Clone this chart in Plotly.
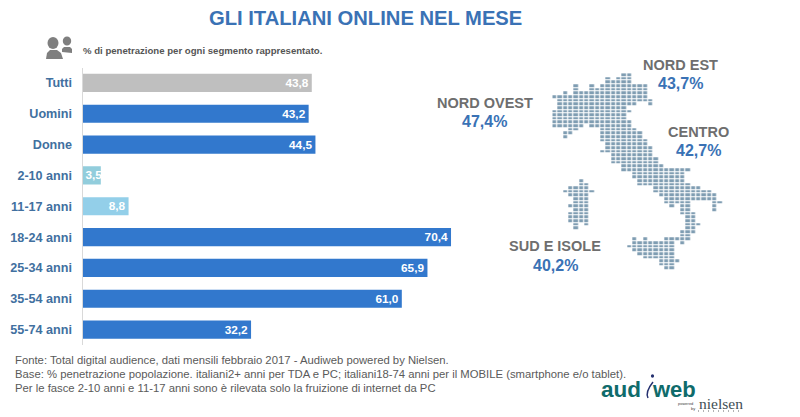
import plotly.graph_objects as go

W, H = 800, 417

categories = ["Tutti", "Uomini", "Donne", "2-10 anni", "11-17 anni", "18-24 anni", "25-34 anni", "35-54 anni", "55-74 anni"]
penetration = [43.8, 43.2, 44.5, 3.5, 8.8, 70.4, 65.9, 61.0, 32.2]
bar_colors = ["#bfbfbf", "#3278cd", "#3278cd", "#92cddc", "#93cfe9", "#3278cd", "#3278cd", "#3278cd", "#3278cd"]

areas = ["NORD OVEST", "NORD EST", "CENTRO", "SUD E ISOLE"]
area_values = ["47,4%", "43,7%", "42,7%", "40,2%"]

notes = [
    "Fonte: Total digital audience, dati mensili febbraio 2017 - Audiweb powered by Nielsen.",
    "Base: % penetrazione popolazione. italiani2+ anni per TDA e PC; italiani18-74 anni per il MOBILE (smartphone e/o tablet).",
    "Per le fasce 2-10 anni e 11-17 anni sono è rilevata solo la fruizione di internet da PC",
]

# column spans of the dotted map, one list per row
map_rows = [
    [(13, 14)], [(10, 10), (12, 14)], [(10, 14)], [(4, 4), (7, 7), (9, 17)],
    [(4, 4), (7, 7), (8, 17)], [(2, 2), (4, 17)], [(0, 17)], [(1, 18)],
    [(1, 15), (18, 18)], [(1, 13)], [(0, 14)], [(0, 13)], [(0, 13)], [(0, 14)],
    [(0, 5), (7, 14)], [(3, 4), (9, 15)], [(2, 3), (9, 16)], [(2, 2), (9, 16)],
    [(9, 17)], [(10, 17)], [(10, 18)], [(9, 18)], [(11, 18)], [(11, 19)], [(11, 19)],
    [(13, 20)], [(13, 25)], [(15, 24)], [(15, 24)], [(5, 5), (16, 24)], [(5, 6), (16, 25)],
    [(3, 6), (19, 27)], [(2, 7), (19, 29)], [(3, 6), (20, 30)], [(4, 6), (21, 30)],
    [(4, 6), (21, 25), (30, 31)], [(3, 6), (22, 22), (24, 25), (30, 30)],
    [(4, 6), (24, 25), (30, 30)], [(3, 6), (24, 26)], [(3, 6), (25, 26)], [(3, 6), (25, 26)],
    [(4, 4), (6, 6), (25, 27)], [(4, 4), (25, 26)], [(24, 26)], [(24, 25)],
    [(15, 15), (17, 17), (21, 25)], [(15, 22), (24, 24)], [(14, 22)], [(15, 22)],
    [(16, 22)], [(17, 22)], [(20, 23)], [(20, 22)], [(21, 22)],
]

FONT = "Liberation Sans, Arial, sans-serif"
BLUE = "#3a72b5"
GREY = "#6e6e6e"


def px(x):
    return x / W


def py(y):
    return 1 - y / H


def label(x, y, text, size, color, bold=True, anchor="center", family=FONT):
    if bold:
        text = f"<b>{text}</b>"
    fig.add_annotation(x=px(x), y=py(y), xref="paper", yref="paper", text=text, showarrow=False,
                       xanchor=anchor, yanchor="middle", align=anchor,
                       font=dict(family=family, size=size, color=color))


fig = go.Figure()

# the 2-10 bar is too short for its label, so that one is anchored at the start
for narrow in (False, True):
    idx = [i for i, c in enumerate(categories) if (c == "2-10 anni") == narrow]
    fig.add_trace(go.Bar(
        y=[categories[i] for i in idx], x=[penetration[i] for i in idx], orientation="h",
        marker=dict(color=[bar_colors[i] for i in idx], line_width=0),
        texttemplate="<b>%{x:.1f}</b>", textposition="inside",
        insidetextanchor="start" if narrow else "end",
        textangle=0, constraintext="none", cliponaxis=False,
        textfont=dict(family=FONT, size=11.8, color="white"),
        hoverinfo="skip", showlegend=False,
    ))

# map as a grid of cells
map_z = []
for spans in map_rows:
    row = [None] * 32
    for a, b in spans:
        for c in range(a, b + 1):
            row[c] = 1
    map_z.append(row)

fig.add_trace(go.Heatmap(
    z=map_z, xaxis="x2", yaxis="y2", xgap=1.2, ygap=1,
    colorscale=[[0, "#7f9db2"], [1, "#7f9db2"]], showscale=False, hoverinfo="skip",
))

fig.update_layout(
    width=W, height=H, margin=dict(l=0, r=0, t=0, b=0),
    paper_bgcolor="white", plot_bgcolor="rgba(0,0,0,0)",
    separators=",.", barmode="overlay", bargap=0.41,
    xaxis=dict(domain=[px(82.5), px(82.5 + 392.6)], range=[0, 75], visible=False),
    yaxis=dict(domain=[py(345), py(67.5)], categoryorder="array", categoryarray=categories,
               autorange="reversed", showline=True, linecolor="#d9d9d9", linewidth=1,
               showgrid=False, ticks="", ticklabelstandoff=7,
               tickfont=dict(family=FONT, size=12.6, color="#41709f", weight="bold")),
    xaxis2=dict(domain=[px(552.3), px(552.3 + 32 * 5.33)], range=[-0.5, 31.5], visible=False, anchor="y2"),
    yaxis2=dict(domain=[py(73.2 + 54 * 3.65), py(73.2)], range=[53.5, -0.5], visible=False, anchor="x2"),
)

label(365, 18, "GLI ITALIANI ONLINE NEL MESE", 20.2, BLUE)
label(81, 50, "% di penetrazione per ogni segmento rappresentato.", 9.6, "#555555", anchor="left")

# region labels
area_x = [485, 680, 698, 555]
area_y = [103, 65, 132, 246]
value_y = [122, 84, 150, 265]
for name, val, x, y0, y1 in zip(areas, area_values, area_x, area_y, value_y):
    label(x, y0, name, 14.5, GREY)
    label(x, y1, val, 16, BLUE)

for y, note in zip([360, 374, 388], notes):
    label(13, y, note, 11.3, "#5a5a5a", bold=False, anchor="left")


# people icon
def disc(cx, cy, r, color="#7f7f7f"):
    fig.add_shape(type="circle", xref="paper", yref="paper", x0=px(cx - r), x1=px(cx + r),
                  y0=py(cy + r * 1.1), y1=py(cy - r * 1.1), fillcolor=color, line_width=0)


def blob(points, color="#7f7f7f"):
    path = "M " + " L ".join(f"{px(x):.5f},{py(y):.5f}" for x, y in points) + " Z"
    fig.add_shape(type="path", xref="paper", yref="paper", path=path, fillcolor=color, line_width=0)


disc(53, 43, 5.5)
blob([(46, 59), (47, 53), (50, 50), (57, 50), (61, 53), (63, 59)])
disc(67, 41, 4.2)
blob([(62, 52), (62, 49), (64, 47), (70, 47), (72, 49), (72, 53)])

# audiweb logo
TEAL = "#0f6b6b"
label(599, 389, "aud", 22.5, TEAL, anchor="left")
label(650, 389, "web", 22, TEAL, anchor="left")
disc(652.5, 376, 1.6, "#24306f")
fig.add_shape(type="path", xref="paper", yref="paper", line=dict(color="#24306f", width=1.5),
              path=f"M {px(653):.5f},{py(382):.5f} Q {px(645):.5f},{py(392):.5f} {px(648):.5f},{py(398):.5f}")
label(697, 403, "nielsen", 15.5, "#3f4f55", bold=False, anchor="left", family="Liberation Serif, serif")
label(676, 403, "powered", 4, "#444444", bold=False, anchor="left")
label(689, 408, "by", 4, "#444444", bold=False, anchor="left")
fig.add_shape(type="line", xref="paper", yref="paper", x0=px(698), x1=px(741), y0=py(411), y1=py(411),
              line=dict(color="#666666", width=1.2, dash="1px 4px"))

fig.write_html("out.html", config={"displayModeBar": False}, post_script="document.body.style.margin = '0';")
